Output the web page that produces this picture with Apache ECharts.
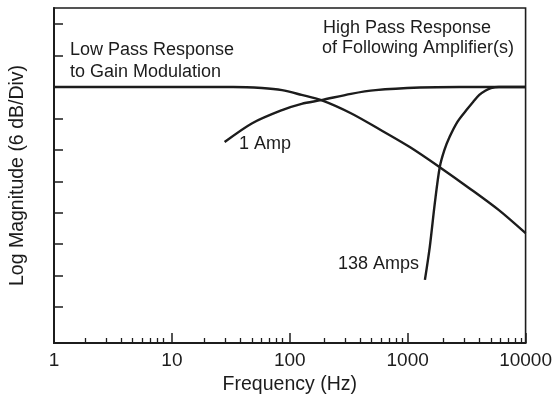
<!DOCTYPE html>
<html>
<head>
<meta charset="utf-8">
<script src="https://cdn.jsdelivr.net/npm/echarts@6/dist/echarts.min.js"></script>
<style>
html,body{margin:0;padding:0;background:#fff;}
#chart{width:555px;height:401px;}
</style>
</head>
<body>
<div id="chart"></div>
<script>
// Frequency (Hz) / magnitude (dB, 0 = passband)
var lowPassFreq = [1, 10, 33, 58, 86, 126, 185, 330, 590, 1050, 1870, 3330, 5940, 10000];
var lowPassDb   = [0, 0, 0, -0.2, -0.6, -1.5, -2.5, -5.0, -8.2, -11.5, -15.3, -19.3, -23.5, -27.9];

var amp1Freq = [28, 48, 86, 126, 185, 330, 535, 1270, 2750, 10000];
var amp1Db   = [-10.5, -6.9, -4.4, -3.2, -2.5, -1.3, -0.6, -0.1, 0, 0];

var amp138Freq = [1400, 1540, 1700, 1870, 2050, 2270, 2650, 3150, 3600, 4050, 4550, 5090, 5940, 10000];
var amp138Db   = [-36.8, -30.5, -22.1, -15.3, -12.0, -9.5, -6.6, -4.4, -2.8, -1.5, -0.7, -0.2, 0, 0];

var xMajorTicks = [1, 10, 100, 1000, 10000];
var xMinorTicks = [2,3,4,5,6,7,8,9, 20,30,40,50,60,70,80,90, 200,300,400,500,600,700,800,900, 2000,3000,4000,5000,6000,7000,8000,9000];
var yTicks = [-42, -36, -30, -24, -18, -12, -6, 0, 6, 12];
var yMin = -48.85, yMax = 15.08;

function pairs(xs, ys){ return xs.map(function(x,i){ return [x, ys[i]]; }); }

var FONT = '"Liberation Sans", Arial, Helvetica, sans-serif';
var INK = '#1c1c1c';

var chart = echarts.init(document.getElementById('chart'), null, {renderer:'canvas'});
var lineStyle = {color: INK, width: 2.4};
var gridBox = {left: 49, right: 28, top: 8, bottom: 58};
chart.setOption({
  animation: false,
  backgroundColor: '#fff',
  grid: [
    Object.assign({show: true, borderColor: INK, borderWidth: 1.6, containLabel: false}, gridBox),
    Object.assign({show: false, containLabel: false}, gridBox)
  ],
  xAxis: [{
    gridIndex: 0, type: 'log', logBase: 10, min: 1, max: 10000, position: 'bottom',
    name: 'Frequency (Hz)', nameLocation: 'middle', nameGap: 32,
    nameTextStyle: {fontFamily: FONT, fontSize: 19.5, color: INK},
    axisLine: {show: true, onZero: false, lineStyle: {color: INK, width: 2}},
    axisTick: {show: true, inside: true, length: 10, customValues: xMajorTicks, lineStyle: {color: INK, width: 1.5}},
    axisLabel: {show: true, margin: 8, fontFamily: FONT, fontSize: 19, color: INK, customValues: xMajorTicks, formatter: function(v){ return String(Math.round(v)); }},
    splitLine: {show: false}, minorTick: {show: false}
  }, {
    gridIndex: 1, type: 'log', logBase: 10, min: 1, max: 10000, position: 'bottom',
    axisLine: {show: false, onZero: false},
    axisTick: {show: true, inside: true, length: 5, customValues: xMinorTicks, lineStyle: {color: INK, width: 1.3}},
    axisLabel: {show: false}, splitLine: {show: false}
  }],
  yAxis: [{
    gridIndex: 0, type: 'value', min: yMin, max: yMax, position: 'left',
    name: 'Log Magnitude (6 dB/Div)', nameLocation: 'middle', nameGap: 26, nameRotate: 90,
    nameTextStyle: {fontFamily: FONT, fontSize: 19.5, color: INK},
    axisLine: {show: true, onZero: false, lineStyle: {color: INK, width: 2}},
    axisTick: {show: true, inside: true, length: 9, customValues: yTicks, lineStyle: {color: INK, width: 1.5}},
    axisLabel: {show: false}, splitLine: {show: false}
  }, {
    gridIndex: 1, type: 'value', min: yMin, max: yMax, show: false
  }],
  series: [
    {type: 'line', xAxisIndex: 0, yAxisIndex: 0, data: pairs(lowPassFreq, lowPassDb), smooth: 0.3, showSymbol: false, lineStyle: lineStyle},
    {type: 'line', xAxisIndex: 0, yAxisIndex: 0, data: pairs(amp1Freq, amp1Db), smooth: 0.3, showSymbol: false, lineStyle: lineStyle},
    {type: 'line', xAxisIndex: 0, yAxisIndex: 0, data: pairs(amp138Freq, amp138Db), smooth: 0.3, showSymbol: false, lineStyle: lineStyle}
  ],
  graphic: [
    {type: 'text', x: 70, y: 50.5, style: {text: 'Low Pass Response', font: '18px ' + FONT, fill: INK, verticalAlign: 'middle'}},
    {type: 'text', x: 70, y: 72.5, style: {text: 'to Gain Modulation', font: '18px ' + FONT, fill: INK, verticalAlign: 'middle'}},
    {type: 'text', x: 323, y: 28, style: {text: 'High Pass Response', font: '18px ' + FONT, fill: INK, verticalAlign: 'middle'}},
    {type: 'text', x: 322, y: 48.5, style: {text: 'of Following Amplifier(s)', font: '18px ' + FONT, fill: INK, verticalAlign: 'middle'}},
    {type: 'text', x: 239, y: 144.5, style: {text: '1 Amp', font: '18px ' + FONT, fill: INK, verticalAlign: 'middle'}},
    {type: 'text', x: 338, y: 264, style: {text: '138 Amps', font: '18px ' + FONT, fill: INK, verticalAlign: 'middle'}}
  ]
});
</script>
</body>
</html>
